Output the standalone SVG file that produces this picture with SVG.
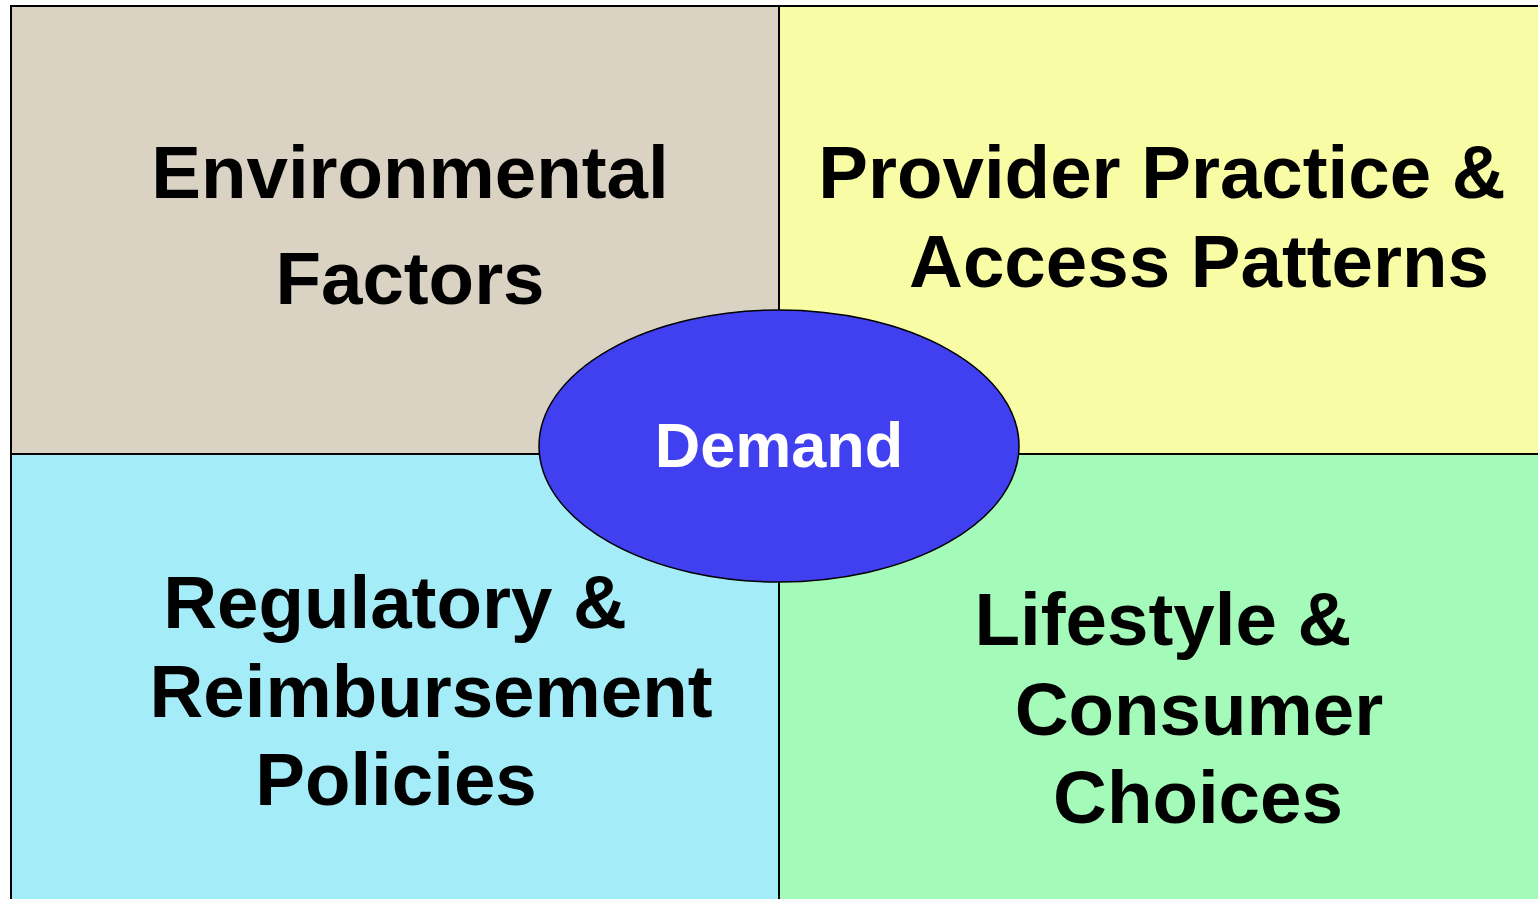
<svg xmlns="http://www.w3.org/2000/svg" width="1538" height="899" viewBox="0 0 1538 899">
  <style>
    .quad { stroke: #000; stroke-width: 2; }
    .lbl { font-family: "Liberation Sans", Arial, sans-serif; font-weight: bold; font-size: 74.5px; fill: #000; text-anchor: middle; }
    .core { font-family: "Liberation Sans", Arial, sans-serif; font-weight: bold; font-size: 63px; fill: #fff; text-anchor: middle; }
  </style>
  <rect width="1538" height="899" fill="#fff"/>

  <g id="environmental">
    <rect class="quad" x="11" y="6" width="768" height="448" fill="#DAD3C4"/>
    <text class="lbl" x="410" y="198">Environmental</text>
    <text class="lbl" x="410" y="304">Factors</text>
  </g>

  <g id="provider">
    <rect class="quad" x="779" y="6" width="780" height="448" fill="#F8FCA4"/>
    <text class="lbl" x="1162" y="198">Provider Practice &amp;</text>
    <text class="lbl" x="1199" y="287">Access Patterns</text>
  </g>

  <g id="regulatory">
    <rect class="quad" x="11" y="454" width="768" height="460" fill="#A4ECF8"/>
    <text class="lbl" x="395" y="628">Regulatory &amp;</text>
    <text class="lbl" x="431" y="717">Reimbursement</text>
    <text class="lbl" x="396" y="805">Policies</text>
  </g>

  <g id="lifestyle">
    <rect class="quad" x="779" y="454" width="780" height="460" fill="#A4FAB8"/>
    <text class="lbl" x="1163" y="645">Lifestyle &amp;</text>
    <text class="lbl" x="1199" y="735">Consumer</text>
    <text class="lbl" x="1198" y="823">Choices</text>
  </g>

  <g id="demand">
    <ellipse cx="779" cy="446" rx="240" ry="136" fill="#4040F0" stroke="#000" stroke-width="1.5"/>
    <text class="core" x="779" y="467">Demand</text>
  </g>

  <g id="connectors"/>
</svg>
